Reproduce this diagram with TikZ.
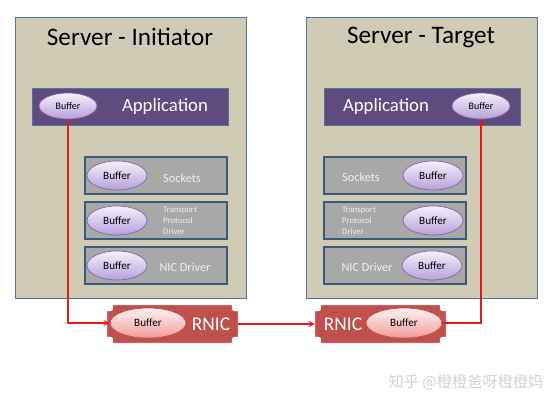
\documentclass[tikz,border=0pt]{standalone}
\usepackage{fontspec}
\setmainfont{Carlito}
\newfontfamily\cjkfont{Noto Sans CJK SC}
\usetikzlibrary{calc,shadows,shapes.geometric}

\definecolor{serverfill}{RGB}{207,203,180}
\definecolor{serverline}{RGB}{85,115,150}
\definecolor{appfill}{RGB}{95,75,125}
\definecolor{layerfill}{RGB}{168,168,168}
\definecolor{layerline}{RGB}{60,90,120}
\definecolor{buftop}{RGB}{246,240,252}
\definecolor{bufbot}{RGB}{182,160,218}
\definecolor{bufline}{RGB}{128,100,162}
\definecolor{rnicfill}{RGB}{192,80,77}
\definecolor{rbuftop}{RGB}{255,242,242}
\definecolor{rbufbot}{RGB}{240,155,155}
\definecolor{linkred}{RGB}{228,25,25}

% plate with scooped corners round a node
\newcommand{\rnicplate}[1]{%
  \filldraw[plateshape]
    ($(#1.north west)+(6,0)$) -- ($(#1.north east)+(-6,0)$)
    .. controls ($(#1.north east)+(-6,6)$) .. ($(#1.north east)+(0,6)$)
    -- ($(#1.south east)+(0,-6)$)
    .. controls ($(#1.south east)+(-6,-6)$) .. ($(#1.south east)+(-6,0)$)
    -- ($(#1.south west)+(6,0)$)
    .. controls ($(#1.south west)+(6,-6)$) .. ($(#1.south west)+(0,-6)$)
    -- ($(#1.north west)+(0,6)$)
    .. controls ($(#1.north west)+(6,6)$) .. ($(#1.north west)+(6,0)$) -- cycle;}

\begin{document}
\begin{tikzpicture}[
    x=0.03cm, y=-0.03cm,
    server/.style={draw=serverline, fill=serverfill, line width=0.8pt,
      minimum width=6.93cm, minimum height=8.43cm},
    title/.style={font=\fontsize{21.5}{25}\selectfont},
    appbar/.style={draw=serverline, fill=appfill, line width=0.8pt,
      minimum width=5.88cm, minimum height=1.11cm},
    applab/.style={text=white, font=\fontsize{16}{19}\selectfont},
    layer/.style={draw=layerline, fill=layerfill, line width=1.1pt,
      minimum width=4.26cm, minimum height=1.11cm},
    laylab/.style={text=white!88!gray, font=\fontsize{10.5}{12}\selectfont},
    smalllab/.style={text=white!88!gray, font=\fontsize{7.4}{9.2}\selectfont,
      align=left, anchor=west, inner sep=0pt},
    buffer/.style={ellipse, draw=bufline, line width=0.6pt, top color=buftop,
      bottom color=bufbot, inner sep=0pt, minimum width=1.8cm,
      minimum height=0.87cm, font=\fontsize{9.5}{11}\selectfont},
    appbuf/.style={buffer, minimum width=1.74cm, minimum height=0.78cm,
      font=\fontsize{8.5}{10}\selectfont},
    rbuf/.style={buffer, draw=rnicfill, top color=rbuftop, bottom color=rbufbot,
      minimum width=2.28cm, minimum height=0.9cm},
    rnic/.style={minimum width=3.93cm, minimum height=1.14cm, inner sep=0pt},
    plateshape/.style={fill=rnicfill, draw=white, line width=0.8pt,
      drop shadow={opacity=0.25, shadow xshift=0.8pt, shadow yshift=-0.8pt}},
    rniclab/.style={text=white, font=\fontsize{16.5}{19}\selectfont},
    link/.style={->, >=stealth, draw=linkred, line width=1.3pt}
  ]
  \useasboundingbox (0,0) rectangle (558,405);

  % initiator side
  \node[server] (srvI) at (130.5,157.5) {};
  \node[title] (titleI) at (130,37) {Server - Initiator};
  \node[appbar] (appI) at (130,106.5) {};
  \node[appbuf] (bufAppI) at (68,106) {Buffer};
  \node[applab] (appLabI) at (165,107) {Application};
  \node[layer] (sockI) at (156,175.5) {};
  \node[layer] (tpdI) at (156,220.5) {};
  \node[layer] (nicI) at (156,265.5) {};
  \node[buffer] (bufSockI) at (117,175.5) {Buffer};
  \node[buffer] (bufTpdI) at (117,220.5) {Buffer};
  \node[buffer] (bufNicI) at (117,265.5) {Buffer};
  \node[laylab] (sockLabI) at (182,178) {Sockets};
  \node[smalllab] (tpdLabI) at (163,221) {Transport\\Protocol\\Driver};
  \node[laylab] (nicLabI) at (185,267) {NIC Driver};

  % target side
  \node[server] (srvT) at (421.5,157.5) {};
  \node[title] (titleT) at (421,37) {Server - Target};
  \node[appbar] (appT) at (422.5,106.5) {};
  \node[appbuf] (bufAppT) at (481,106) {Buffer};
  \node[applab] (appLabT) at (386,107) {Application};
  \node[layer] (sockT) at (395,175.5) {};
  \node[layer] (tpdT) at (395,220.5) {};
  \node[layer] (nicT) at (395,265.5) {};
  \node[buffer] (bufSockT) at (433,175.5) {Buffer};
  \node[buffer] (bufTpdT) at (433,220.5) {Buffer};
  \node[buffer] (bufNicT) at (432,265.5) {Buffer};
  \node[laylab] (sockLabT) at (361,177) {Sockets};
  \node[smalllab] (tpdLabT) at (342,221) {Transport\\Protocol\\Driver};
  \node[laylab] (nicLabT) at (367,267) {NIC Driver};

  % the two RNICs
  \node[rnic] (rnicI) at (172.5,324) {};
  \rnicplate{rnicI}
  \node[rbuf] (bufRnicI) at (148,323) {Buffer};
  \node[rniclab] (rnicLabI) at (211,324) {RNIC};

  \node[rnic] (rnicT) at (380.5,324) {};
  \rnicplate{rnicT}
  \node[rbuf] (bufRnicT) at (404,323) {Buffer};
  \node[rniclab] (rnicLabT) at (343,324) {RNIC};

  % data path
  \draw[link] (bufAppI.south) |- (bufRnicI.west);
  \draw[link] (rnicI.east) -- (rnicT.west);
  \draw[link] (bufRnicT.east) -| (bufAppT.south);

  \node[text=gray!35, font=\cjkfont\fontsize{13}{15}\selectfont] (mark) at (466,382) {知乎 @橙橙爸呀橙橙妈};
\end{tikzpicture}
\end{document}
